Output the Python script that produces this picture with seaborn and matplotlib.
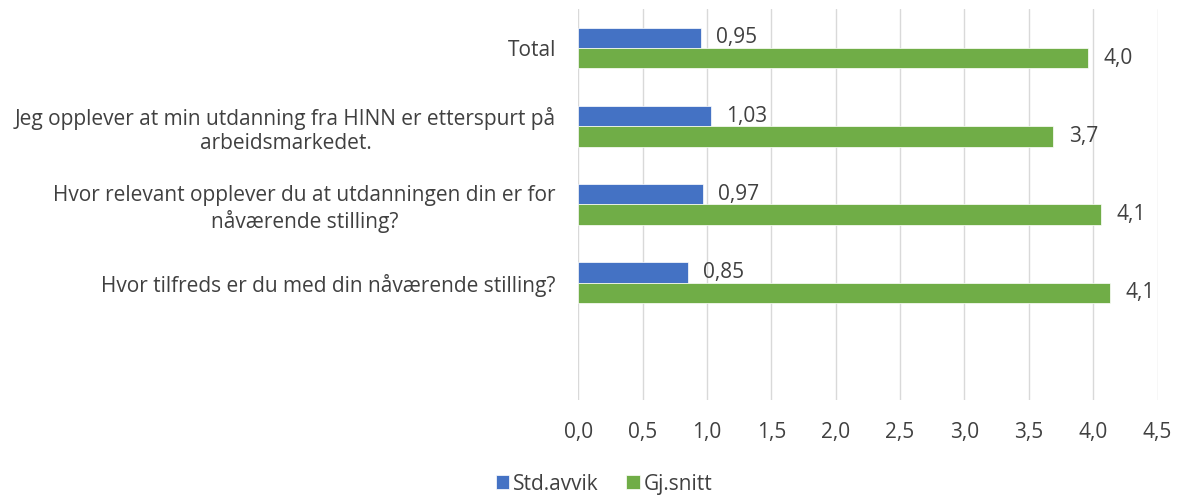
import seaborn as sns
import matplotlib.pyplot as plt
import pandas as pd

categories = [
    "Total",
    "Jeg opplever at min utdanning fra HINN er etterspurt på\narbeidsmarkedet.",
    "Hvor relevant opplever du at utdanningen din er for\nnåværende stilling?",
    "Hvor tilfreds er du med din nåværende stilling?",
]
std_avvik = [0.95, 1.03, 0.97, 0.85]
gj_snitt = [3.96, 3.69, 4.06, 4.13]
series = ["Std.avvik", "Gj.snitt"]
ticks = [0.0, 0.5, 1.0, 1.5, 2.0, 2.5, 3.0, 3.5, 4.0, 4.5]

df = pd.DataFrame({
    "kategori": categories * 2,
    "serie": [series[0]] * len(categories) + [series[1]] * len(categories),
    "verdi": std_avvik + gj_snitt,
})

sns.set_theme(style="white")
plt.rcParams["font.family"] = ["Open Sans", "DejaVu Sans"]
text_color = "#404040"
fs = 15

fig, ax = plt.subplots(figsize=(11.8, 4.95), dpi=100)
fig.subplots_adjust(left=0.49, right=0.981, top=0.982, bottom=0.192)

sns.barplot(
    data=df, y="kategori", x="verdi", hue="serie", order=categories,
    hue_order=series, palette=["#4472C4", "#70AD47"], saturation=1,
    width=0.52, orient="h", ax=ax, legend=True,
)

for bar in ax.patches:
    bar.set_edgecolor("#ffffff")
    bar.set_linewidth(0.5)

# verdietiketter
for cont, fmt in zip(ax.containers, ["{:.2f}", "{:.1f}"]):
    labels = [fmt.format(v).replace(".", ",") for v in cont.datavalues]
    ax.bar_label(cont, labels=labels, padding=11, fontsize=fs, color=text_color)

ax.set_xlim(0, 4.5)
ax.set_ylim(4.5, -0.5)
ax.set_xticks(ticks)
ax.set_xticklabels([f"{t:.1f}".replace(".", ",") for t in ticks])
ax.xaxis.grid(True, color="#d9d9d9", linewidth=1)
ax.set_axisbelow(True)
for s in ax.spines.values():
    s.set_visible(False)
ax.tick_params(axis="x", length=0, pad=16, labelsize=fs, labelcolor=text_color)
ax.tick_params(axis="y", length=0, pad=16, labelsize=fs, labelcolor=text_color)
for lab in ax.get_yticklabels():
    lab.set_horizontalalignment("right")
    lab.set_multialignment("center")
ax.set_xlabel("")
ax.set_ylabel("")

handles, names = ax.get_legend_handles_labels()
ax.get_legend().remove()
fig.legend(
    handles, names, loc="center", bbox_to_anchor=(0.512, 0.022),
    ncol=2, frameon=False, fontsize=fs, handlelength=0.65, handleheight=0.65,
    handletextpad=0.2, columnspacing=1.3, labelcolor=text_color,
)

plt.savefig("out.png", dpi=100)
